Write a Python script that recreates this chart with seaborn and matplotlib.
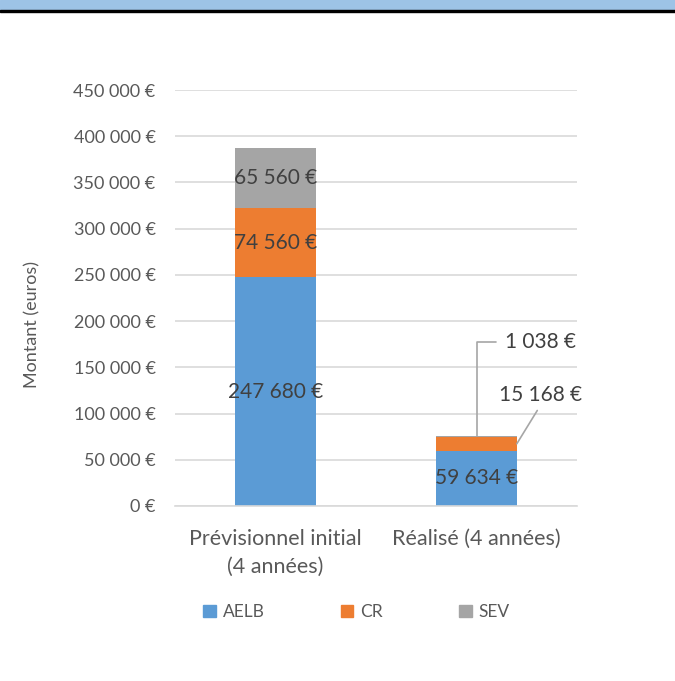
import matplotlib
matplotlib.use("Agg")
import matplotlib.pyplot as plt
from matplotlib.patches import Rectangle
from matplotlib.ticker import FuncFormatter
import numpy as np
import pandas as pd
import seaborn as sns

# Budget par financeur
categories = ["Prévisionnel initial\n(4 années)", "Réalisé (4 années)"]
series = ["AELB", "CR", "SEV"]
aelb = [247680, 59634]
cr = [74560, 15168]
sev = [65560, 1038]
colors = {"AELB": "#5B9BD5", "CR": "#ED7D31", "SEV": "#A5A5A5"}

sns.set_theme(style="white")
plt.rcParams["font.family"] = ["Lato", "DejaVu Sans"]

TEXT = "#404040"
TICK = "#595959"


def euro(v, sep="\u202f"):
    return f"{int(round(v)):,}".replace(",", sep) + sep + "€"


df = pd.DataFrame({"cat": categories, "AELB": aelb, "CR": cr, "SEV": sev})
stack = df[series].cumsum(axis=1)

fig = plt.figure(figsize=(6.75, 6.81), dpi=100)
ax = fig.add_axes([0.2593, 0.2570, 0.5956, 0.6108])

# stacked layers: draw cumulative totals from the top layer down
for s in reversed(series):
    sns.barplot(x=df["cat"], y=stack[s], color=colors[s], width=0.4,
                saturation=1, ax=ax, linewidth=0)

ax.set_ylim(0, 450000)
ax.set_xlim(-0.5, 1.5)
ax.set_yticks(np.arange(0, 450001, 50000))
ax.yaxis.set_major_formatter(FuncFormatter(lambda v, p: euro(v, " ")))
ax.grid(axis="y", color="#D9D9D9", linewidth=1.2)
ax.set_axisbelow(True)
for side in ["top", "right", "left"]:
    ax.spines[side].set_visible(False)
ax.spines["bottom"].set_color("#D9D9D9")
ax.spines["bottom"].set_linewidth(1.2)
ax.tick_params(axis="y", length=0, pad=14, labelsize=13, labelcolor=TICK)
ax.tick_params(axis="x", length=0, pad=16.5, labelsize=15.5, labelcolor=TICK)
for t in ax.get_xticklabels():
    t.set_linespacing(1.5)
ax.set_xlabel("")
ax.set_ylabel("Montant (euros)", fontsize=13, color=TICK)
ax.yaxis.set_label_coords(-0.335, 0.4375)

# value labels inside the segments
label_size = 15
for i in range(len(categories)):
    bottom = 0
    for s in series:
        v = df.loc[i, s]
        if v > 40000:
            ax.text(i, bottom + v / 2, euro(v), ha="center", va="center",
                    fontsize=label_size, color=TEXT)
        bottom += v

# small segments of the second bar: labels with leader lines
i = 1
ax.annotate(euro(cr[i]), xy=(i + 0.2, aelb[i] + cr[i] / 2),
            xytext=(24, 49), textcoords="offset pixels",
            ha="center", va="center", fontsize=label_size, color=TEXT,
            arrowprops=dict(arrowstyle="-", color="#A6A6A6", lw=1.2,
                            relpos=(0.5, 0), shrinkA=2, shrinkB=0))
ax.annotate(euro(sev[i]), xy=(i, aelb[i] + cr[i] + sev[i]),
            xytext=(28, 94), textcoords="offset pixels",
            ha="left", va="center", fontsize=label_size, color=TEXT,
            arrowprops=dict(arrowstyle="-", color="#A6A6A6", lw=1.2,
                            relpos=(0, 0.5), shrinkA=4, shrinkB=0,
                            connectionstyle="angle,angleA=0,angleB=90,rad=0"))

# legend
handles = [Rectangle((0, 0), 1, 1, color=colors[s]) for s in series]
leg = fig.legend(handles, series, loc="center", bbox_to_anchor=(0.528, 1 - 612 / 681),
                 ncol=3, frameon=False, fontsize=12.5, handlelength=0.72,
                 handleheight=0.72, handletextpad=0.4, columnspacing=4.4)
for t in leg.get_texts():
    t.set_color(TICK)

# header band
fig.add_artist(Rectangle((0, 1 - 10 / 681), 1, 10 / 681, transform=fig.transFigure,
                         color="#9DC3E6", zorder=0))
fig.add_artist(Rectangle((0, 1 - 12 / 681), 1, 2 / 681, transform=fig.transFigure,
                         color="black", zorder=0))

fig.savefig("out.png", dpi=100, facecolor="white")
